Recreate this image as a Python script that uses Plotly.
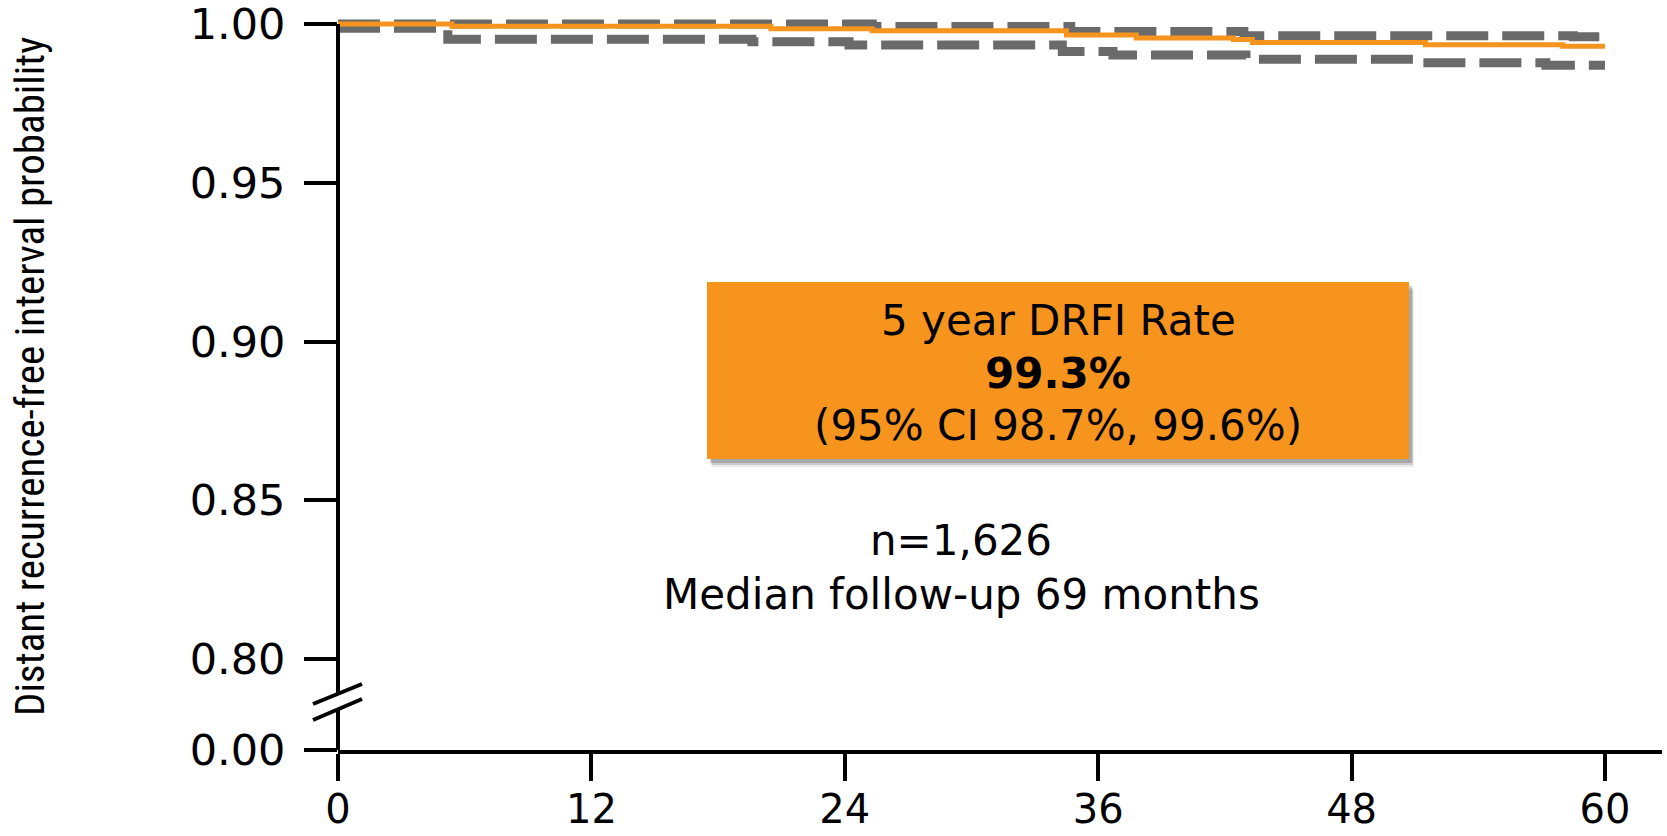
import plotly.graph_objects as go

# Kaplan-Meier estimate of the distant recurrence-free interval
km_months = [0, 5.4, 20.5, 25.3, 34.5, 37.8, 42.4, 43.3, 51.5, 58.0, 60]
km_prob = [1.0, 0.9993, 0.9985, 0.9979, 0.9965, 0.9956, 0.9951, 0.9942, 0.9935, 0.9930, 0.9930]

# 95% confidence band (upper and lower limits)
ci_upper_months = [0, 25.3, 34.7, 42.9, 58.5, 60]
ci_upper_prob = [1.0, 0.9992, 0.9976, 0.9963, 0.9960, 0.9960]

ci_lower_months = [0, 5.2, 19.6, 24.2, 34.3, 36.7, 43.0, 51.2, 57.2, 60]
ci_lower_prob = [0.9987, 0.9952, 0.9944, 0.9934, 0.9913, 0.9902, 0.9889, 0.9878, 0.9870, 0.9870]

x_ticks = [0, 12, 24, 36, 48, 60]
upper_ticks = [0.80, 0.85, 0.90, 0.95, 1.00]
lower_ticks = [0.00]

y_title = "Distant recurrence-free interval probability"
rate_lines = ["5 year DRFI Rate", "<b>99.3%</b>", "(95% CI 98.7%, 99.6%)"]
cohort_lines = ["n=1,626", "Median follow-up 69 months"]

# ---- page geometry (pixels) ----
W, H = 1667, 836
M_L, M_R, M_T, M_B = 338, 5, 16, 86
PLOT_W = W - M_L - M_R
PLOT_H = H - M_T - M_B
X_MAX = 62.7

Y1_PX, Y08_PX = 24, 659            # where 1.00 and 0.80 sit
PX_PER_UNIT = (Y08_PX - Y1_PX) / 0.2
BREAK_TOP_PX, BREAK_BOT_PX = 693, 709


def paper_x(px):
    return (px - M_L) / PLOT_W


def paper_y(py):
    return (H - M_B - py) / PLOT_H


upper_range = [1.0 - (BREAK_TOP_PX - Y1_PX) / PX_PER_UNIT,
               1.0 + (Y1_PX - M_T) / PX_PER_UNIT]

FONT = "DejaVu Sans"
ORANGE = "#F7941E"
GREY = "#6A6A6A"

fig = go.Figure()

fig.add_trace(go.Scatter(
    x=ci_upper_months, y=ci_upper_prob, mode="lines", line_shape="hv",
    line=dict(color=GREY, width=9, dash="42px,14px"), hoverinfo="skip"))
fig.add_trace(go.Scatter(
    x=ci_lower_months, y=ci_lower_prob, mode="lines", line_shape="hv",
    line=dict(color=GREY, width=9, dash="42px,14px"), hoverinfo="skip"))
fig.add_trace(go.Scatter(
    x=km_months, y=km_prob, mode="lines", line_shape="hv",
    line=dict(color=ORANGE, width=5)))
# empty trace that registers the lower (0.00) segment of the broken axis
fig.add_trace(go.Scatter(x=[], y=[], yaxis="y2", mode="lines", hoverinfo="skip"))

axis_common = dict(ticks="outside", tickwidth=4, tickcolor="black",
                   showgrid=False, zeroline=False, automargin=False,
                   ticklabeloverflow="allow")

fig.update_layout(
    template="none",
    width=W, height=H,
    margin=dict(l=M_L, r=M_R, t=M_T, b=M_B, autoexpand=False),
    paper_bgcolor="white", plot_bgcolor="white",
    showlegend=False,
    font=dict(family=FONT, color="black"),
    xaxis=dict(range=[0, X_MAX], tickvals=x_ticks, ticklen=27,
               tickfont=dict(size=40, family=FONT), ticklabelstandoff=-6,
               showline=True, linewidth=4, linecolor="black",
               anchor="y2", **axis_common),
    yaxis=dict(domain=[paper_y(BREAK_TOP_PX), 1], range=upper_range,
               tickvals=upper_ticks, tickformat=".2f", ticklen=33,
               tickfont=dict(size=43, family=FONT), ticklabelstandoff=10,
               showline=False, anchor="x", **axis_common),
    yaxis2=dict(domain=[0, paper_y(BREAK_BOT_PX)], range=[0, 0.05],
                tickvals=lower_ticks, tickformat=".2f", ticklen=33,
                tickfont=dict(size=43, family=FONT), ticklabelstandoff=10,
                showline=False, anchor="x", **axis_common),
)

shapes = []
# vertical axis line, interrupted at the break
shapes.append(dict(type="line", xref="paper", yref="paper",
                   x0=0, x1=0, y0=paper_y(BREAK_TOP_PX), y1=paper_y(Y1_PX),
                   line=dict(color="black", width=4)))
shapes.append(dict(type="line", xref="paper", yref="paper",
                   x0=0, x1=0, y0=0, y1=paper_y(BREAK_BOT_PX),
                   line=dict(color="black", width=4)))
# break marks
for y_left, y_right in [(704, 684), (720, 699)]:
    shapes.append(dict(type="line", xref="paper", yref="paper",
                       x0=paper_x(313), x1=paper_x(362),
                       y0=paper_y(y_left), y1=paper_y(y_right),
                       line=dict(color="black", width=4)))

# highlighted rate box with a soft drop shadow
BOX = (707, 282, 1409, 459)
for dx, dy, alpha in [(5, 8, 0.08), (4, 6, 0.12), (3, 4, 0.18)]:
    shapes.append(dict(type="rect", xref="paper", yref="paper",
                       x0=paper_x(BOX[0] + dx), x1=paper_x(BOX[2] + dx),
                       y0=paper_y(BOX[3] + dy), y1=paper_y(BOX[1] + dy),
                       fillcolor=f"rgba(0,0,0,{alpha})", line=dict(width=0)))
shapes.append(dict(type="rect", xref="paper", yref="paper",
                   x0=paper_x(BOX[0]), x1=paper_x(BOX[2]),
                   y0=paper_y(BOX[3]), y1=paper_y(BOX[1]),
                   fillcolor=ORANGE, line=dict(width=0)))
fig.update_layout(shapes=shapes)

annotations = []
for text, cy in zip(rate_lines, [320, 373, 425]):
    annotations.append(dict(text=text, xref="paper", yref="paper",
                            x=paper_x(1058), y=paper_y(cy),
                            xanchor="center", yanchor="middle", showarrow=False,
                            font=dict(size=42, family=FONT, color="black")))
for text, cy in zip(cohort_lines, [540, 594]):
    annotations.append(dict(text=text, xref="paper", yref="paper",
                            x=paper_x(961), y=paper_y(cy),
                            xanchor="center", yanchor="middle", showarrow=False,
                            font=dict(size=42, family=FONT, color="black")))
annotations.append(dict(text=y_title, xref="paper", yref="paper",
                        x=paper_x(30), y=paper_y(377), textangle=-90,
                        xanchor="center", yanchor="middle", showarrow=False,
                        font=dict(size=41, family="Liberation Sans Narrow, Roboto Condensed, Roboto",
                                  color="black")))
fig.update_layout(annotations=annotations)

fig.write_html("out.html")
